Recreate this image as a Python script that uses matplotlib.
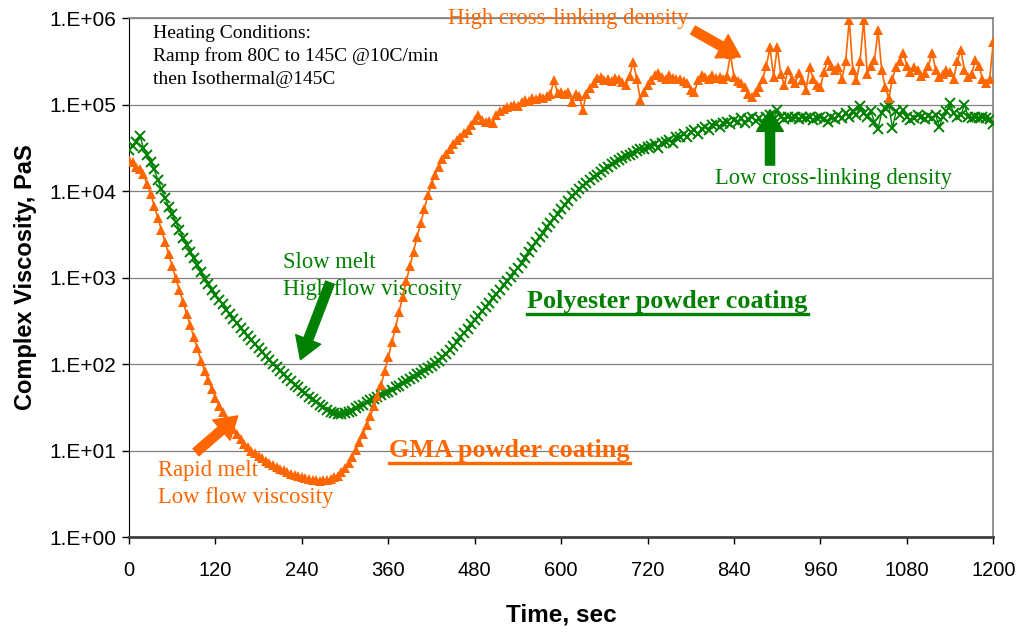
import numpy as np
import matplotlib
matplotlib.use("Agg")
import matplotlib.pyplot as plt

# sampling grid, seconds (one reading every 5 s)
time_s = np.arange(0, 1205, 5)

# log10 of complex viscosity (PaS), one row per minute
polyester_log10 = [
    4.47, 4.52, 4.57, 4.64, 4.50, 4.42, 4.34, 4.25, 4.13, 4.02, 3.92, 3.82,
    3.73, 3.64, 3.55, 3.46, 3.38, 3.30, 3.22, 3.14, 3.06, 2.98, 2.92, 2.86,
    2.80, 2.74, 2.69, 2.63, 2.58, 2.52, 2.47, 2.42, 2.37, 2.32, 2.28, 2.23,
    2.18, 2.14, 2.09, 2.05, 2.00, 1.96, 1.92, 1.88, 1.84, 1.80, 1.76, 1.73,
    1.69, 1.66, 1.62, 1.59, 1.56, 1.53, 1.50, 1.47, 1.45, 1.43, 1.42, 1.42,
    1.43, 1.44, 1.46, 1.49, 1.51, 1.53, 1.56, 1.58, 1.60, 1.62, 1.64, 1.66,
    1.68, 1.70, 1.73, 1.75, 1.78, 1.80, 1.83, 1.85, 1.88, 1.90, 1.93, 1.95,
    1.98, 2.01, 2.04, 2.08, 2.12, 2.16, 2.21, 2.26, 2.31, 2.36, 2.41, 2.46,
    2.51, 2.56, 2.61, 2.66, 2.71, 2.76, 2.81, 2.86, 2.91, 2.96, 3.01, 3.06,
    3.11, 3.17, 3.23, 3.29, 3.35, 3.41, 3.47, 3.52, 3.58, 3.63, 3.69, 3.74,
    3.79, 3.84, 3.89, 3.94, 3.98, 4.02, 4.06, 4.09, 4.13, 4.16, 4.19, 4.22,
    4.25, 4.28, 4.31, 4.33, 4.36, 4.38, 4.40, 4.42, 4.44, 4.46, 4.48, 4.49,
    4.51, 4.52, 4.54, 4.50, 4.56, 4.57, 4.59, 4.56, 4.62, 4.63, 4.66, 4.62,
    4.68, 4.71, 4.66, 4.72, 4.74, 4.70, 4.76, 4.78, 4.74, 4.79, 4.80, 4.78,
    4.82, 4.80, 4.84, 4.79, 4.83, 4.86, 4.81, 4.84, 4.78, 4.85, 4.88, 4.83,
    4.94, 4.85, 4.83, 4.86, 4.84, 4.85, 4.83, 4.86, 4.84, 4.85, 4.82, 4.84,
    4.86, 4.83, 4.80, 4.85, 4.83, 4.88, 4.84, 4.90, 4.86, 4.92, 4.88, 4.98,
    4.90, 4.86, 4.92, 4.80, 4.72, 4.90, 4.96, 4.98, 4.73, 4.92, 4.88, 4.94,
    4.86, 4.82, 4.84, 4.88, 4.86, 4.83, 4.87, 4.84, 4.88, 4.74, 4.86, 4.92,
    5.02, 4.90, 4.86, 4.88, 5.00, 4.86, 4.84, 4.85, 4.84, 4.85, 4.84, 4.83,
    4.78,
]

gma_log10 = [
    4.36, 4.33, 4.28, 4.26, 4.20, 4.08, 3.97, 3.83, 3.69, 3.55, 3.41, 3.27,
    3.13, 2.99, 2.85, 2.72, 2.58, 2.45, 2.31, 2.18, 2.04, 1.92, 1.81, 1.71,
    1.61, 1.52, 1.44, 1.37, 1.31, 1.25, 1.19, 1.13, 1.08, 1.04, 1.00, 0.97,
    0.94, 0.91, 0.88, 0.85, 0.83, 0.81, 0.79, 0.77, 0.75, 0.73, 0.72, 0.70,
    0.69, 0.68, 0.67, 0.66, 0.66, 0.65, 0.66, 0.66, 0.67, 0.69, 0.71, 0.75,
    0.80, 0.86, 0.93, 1.01, 1.10, 1.19, 1.29, 1.40, 1.51, 1.63, 1.76, 1.92,
    2.08, 2.25, 2.42, 2.60, 2.78, 2.96, 3.13, 3.30, 3.47, 3.63, 3.79, 3.95,
    4.08, 4.19, 4.28, 4.37, 4.43, 4.49, 4.54, 4.59, 4.63, 4.67, 4.71, 4.76,
    4.82, 4.88, 4.82, 4.80, 4.81, 4.79, 4.88, 4.93, 4.95, 4.97, 4.98, 5.00,
    4.98, 5.03, 5.05, 5.04, 5.07, 5.06, 5.09, 5.08, 5.10, 5.12, 5.28, 5.13,
    5.14, 5.12, 5.15, 5.03, 5.12, 5.10, 4.94, 5.12, 5.19, 5.25, 5.31, 5.32,
    5.28, 5.30, 5.27, 5.31, 5.29, 5.26, 5.23, 5.33, 5.49, 5.30, 5.05, 5.15,
    5.22, 5.28, 5.34, 5.37, 5.32, 5.30, 5.34, 5.31, 5.29, 5.30, 5.27, 5.25,
    5.17, 5.14, 5.28, 5.34, 5.32, 5.30, 5.34, 5.31, 5.32, 5.30, 5.33, 5.58,
    5.32, 5.27, 5.25, 5.20, 5.12, 5.09, 5.14, 5.20, 5.30, 5.45, 5.66, 5.32,
    5.66, 5.35, 5.22, 5.40, 5.30, 5.25, 5.36, 5.28, 5.17, 5.43, 5.30, 5.22,
    5.20, 5.38, 5.51, 5.45, 5.40, 5.43, 5.30, 5.50, 5.98, 5.40, 5.28, 5.50,
    5.98, 5.35, 5.45, 5.51, 5.86, 5.40, 5.20, 5.07, 5.30, 5.43, 5.50, 5.60,
    5.45, 5.38, 5.43, 5.40, 5.33, 5.36, 5.45, 5.60, 5.40, 5.32, 5.35, 5.40,
    5.38, 5.30, 5.50, 5.63, 5.40, 5.32, 5.35, 5.51, 5.45, 5.30, 5.25, 5.30,
    5.72,
]

x_ticks = [0, 120, 240, 360, 480, 600, 720, 840, 960, 1080, 1200]
y_ticks = [1e0, 1e1, 1e2, 1e3, 1e4, 1e5, 1e6]
y_ticklabels = ['1.E+00', '1.E+01', '1.E+02', '1.E+03', '1.E+04', '1.E+05', '1.E+06']

ORANGE = '#FF6600'
GREEN = '#008000'
SANS = ['Liberation Sans', 'DejaVu Sans']
SERIF = ['Liberation Serif', 'DejaVu Serif']


def main():
    polyester = 10 ** np.array(polyester_log10)
    gma = 10 ** np.array(gma_log10)

    fig = plt.figure(figsize=(10.24, 6.32), dpi=100)
    ax = fig.add_axes([0.126, 0.1503, 0.844, 0.8212])

    ax.plot(time_s, polyester, color=GREEN, lw=1.0, marker='x',
            markersize=7, markeredgewidth=1.4, zorder=3)
    ax.plot(time_s, gma, color=ORANGE, lw=1.2, marker='^',
            markersize=7, markeredgewidth=0, zorder=4)

    ax.set_yscale('log')
    ax.set_xlim(0, 1200)
    ax.set_ylim(1, 1e6)
    ax.set_xticks(x_ticks)
    ax.set_xticklabels([str(t) for t in x_ticks], family=SANS, fontsize=14.5)
    ax.set_yticks(y_ticks)
    ax.set_yticklabels(y_ticklabels, family=SANS, fontsize=15)
    ax.minorticks_off()
    ax.tick_params(axis='both', direction='out', length=5, width=1, colors='black')
    ax.tick_params(axis='x', pad=12)
    ax.tick_params(axis='y', pad=4)
    ax.grid(axis='y', color='#808080', lw=0.9)
    ax.set_axisbelow(True)

    for side in ['top', 'right']:
        ax.spines[side].set_color('#808080')
        ax.spines[side].set_linewidth(1.2)
    ax.spines['left'].set_color('black')
    ax.spines['bottom'].set_color('#404040')
    ax.spines['bottom'].set_linewidth(2)

    ax.set_xlabel('Time, sec', family=SANS, fontsize=17.5, fontweight='bold', labelpad=17)
    ax.set_ylabel('Complex Viscosity, PaS', family=SANS, fontsize=17,
                  fontweight='bold', labelpad=9)

    # annotations
    ax.text(33, 10 ** 5.92, 'Heating Conditions:\nRamp from 80C to 145C @10C/min\nthen Isothermal@145C',
            family=SERIF, fontsize=14, va='top', ha='left', linespacing=1.4)
    ax.text(443, 10 ** 6.0, 'High cross-linking density', family=SERIF, fontsize=16.3,
            color=ORANGE, va='center', ha='left')
    ax.text(814, 10 ** 4.15, 'Low cross-linking density', family=SERIF, fontsize=16.3,
            color=GREEN, va='center', ha='left')
    ax.text(214, 10 ** 3.02, 'Slow melt\nHigh flow viscosity', family=SERIF, fontsize=16.3,
            color=GREEN, va='center', ha='left', linespacing=1.4)
    ax.text(40, 10 ** 0.61, 'Rapid melt\nLow flow viscosity', family=SERIF, fontsize=16.3,
            color=ORANGE, va='center', ha='left', linespacing=1.4)

    t_poly = ax.text(553, 10 ** 2.72, 'Polyester powder coating', family=SERIF,
                     fontsize=18.8, fontweight='bold', color=GREEN, va='center', ha='left')
    t_gma = ax.text(361, 10 ** 1.0, 'GMA powder coating', family=SERIF,
                    fontsize=18.8, fontweight='bold', color=ORANGE, va='center', ha='left')

    arrow = 'simple,head_width=1.6,head_length=1.3,tail_width=0.55'
    arrows = [
        ((849, 10 ** 5.55), (783, 10 ** 5.86), ORANGE),
        ((890, 10 ** 4.94), (890, 10 ** 4.30), GREEN),
        ((238, 10 ** 2.05), (279, 10 ** 2.94), GREEN),
        ((151, 10 ** 1.40), (93, 10 ** 0.98), ORANGE),
    ]
    for head, tail, col in arrows:
        ax.annotate('', xy=head, xytext=tail,
                    arrowprops=dict(arrowstyle=arrow, color=col, mutation_scale=12,
                                    shrinkA=0, shrinkB=0), zorder=6)

    # underline the two bold labels
    fig.canvas.draw()
    inv = ax.transAxes.inverted()
    for txt, col in [(t_poly, GREEN), (t_gma, ORANGE)]:
        bb = txt.get_window_extent()
        (x0, y0), (x1, _) = inv.transform([(bb.x0, bb.y0 - 1), (bb.x1, bb.y0)])
        ax.plot([x0, x1], [y0, y0], transform=ax.transAxes, color=col, lw=2.4,
                clip_on=False, zorder=6)

    fig.savefig('out.png', dpi=100)


if __name__ == '__main__':
    main()
